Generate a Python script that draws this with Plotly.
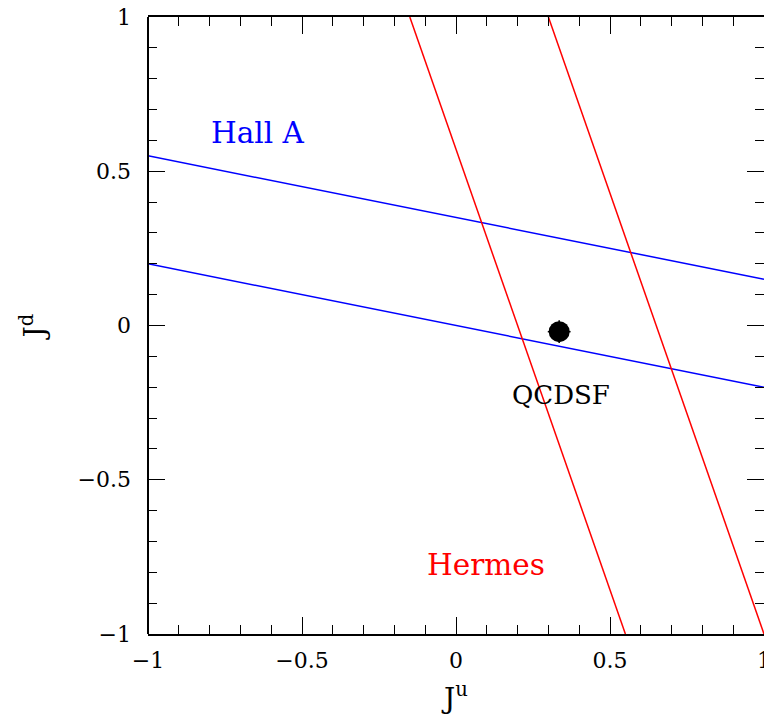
import plotly.graph_objects as go

# Data
hall_a_upper_x = [-1.0, 1.0]
hall_a_upper_y = [0.55, 0.15]
hall_a_lower_x = [-1.0, 1.0]
hall_a_lower_y = [0.2, -0.2]
hermes_left_x = [-0.15, 0.55]
hermes_left_y = [1.0, -1.0]
hermes_right_x = [0.3, 1.0]
hermes_right_y = [1.0, -1.0]
qcdsf_x = [0.335]
qcdsf_y = [-0.02]
qcdsf_err_x = [0.037]
qcdsf_err_y = [0.037]

tick_vals = [-1, -0.5, 0, 0.5, 1]
tick_text = ["\u22121", "\u22120.5", "0", "0.5", "1"]

labels = [
    dict(text="Hall A", x=-0.643, y=0.625, color="#0000ff", size=29.5),
    dict(text="Hermes", x=0.097, y=-0.775, color="#ff0000", size=29.5),
    dict(text="QCDSF", x=0.341, y=-0.225, color="#000000", size=26),
]

FONT = "DejaVu Serif"

fig = go.Figure()
for xs, ys, col in [
    (hall_a_upper_x, hall_a_upper_y, "#0000ff"),
    (hall_a_lower_x, hall_a_lower_y, "#0000ff"),
    (hermes_left_x, hermes_left_y, "#ff0000"),
    (hermes_right_x, hermes_right_y, "#ff0000"),
]:
    fig.add_trace(go.Scatter(x=xs, y=ys, mode="lines",
                             line=dict(color=col, width=1.5),
                             showlegend=False, hoverinfo="skip"))

fig.add_trace(go.Scatter(
    x=qcdsf_x, y=qcdsf_y, mode="markers",
    marker=dict(color="black", size=21),
    error_x=dict(type="data", array=qcdsf_err_x, color="black", thickness=1.5, width=0),
    error_y=dict(type="data", array=qcdsf_err_y, color="black", thickness=1.5, width=0),
    showlegend=False,
))

for lab in labels:
    fig.add_annotation(x=lab["x"], y=lab["y"], text=lab["text"], showarrow=False,
                       xanchor="center", yanchor="middle",
                       font=dict(family=FONT, size=lab["size"], color=lab["color"]))

# left frame line (right side has no visible line)
fig.add_shape(type="line", xref="paper", yref="paper", x0=0, x1=0, y0=0, y1=1,
              line=dict(color="black", width=2))

axis_common = dict(
    range=[-1, 1],
    tickvals=tick_vals,
    ticktext=tick_text,
    ticks="inside",
    ticklen=17,
    tickwidth=1.4,
    tickcolor="black",
    mirror="ticks",
    showgrid=False,
    zeroline=False,
    automargin=False,
    ticklabeloverflow="allow",
    tickfont=dict(family=FONT, size=22, color="black"),
    minor=dict(dtick=0.1, ticks="inside", ticklen=9, tickwidth=1.4, tickcolor="black", showgrid=False),
)

fig.update_layout(
    width=764, height=720,
    margin=dict(l=148, r=0, t=17, b=86, autoexpand=False),
    plot_bgcolor="white", paper_bgcolor="white",
    xaxis=dict(**axis_common, showline=True, linewidth=2, linecolor="black",
               ticklabelstandoff=6,
               title=dict(text="J<sup>u</sup>", font=dict(family=FONT, size=28, color="black"), standoff=16)),
    yaxis=dict(**axis_common, showline=False,
               ticklabelstandoff=16,
               title=dict(text="J<sup>d</sup>", font=dict(family=FONT, size=28, color="black"), standoff=24)),
)

fig.write_html("out.html")
